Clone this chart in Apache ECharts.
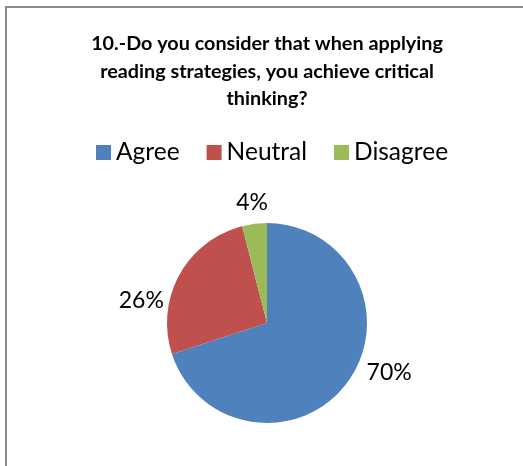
<!DOCTYPE html>
<html>
<head>
<meta charset="utf-8">
<script src="https://cdn.jsdelivr.net/npm/echarts@6/dist/echarts.min.js"></script>
<style>
html,body{margin:0;padding:0;background:#fff;}
#chart{width:523px;height:466px;}
</style>
</head>
<body>
<div id="chart"></div>
<script>
const categories = ['Agree', 'Neutral', 'Disagree'];
const values = [70, 26, 4];
const colors = ['#4F81BD', '#C0504D', '#9BBB59'];
const titleText = '10.-Do you consider that when applying\nreading strategies, you achieve critical\nthinking?';
// label nudges (style only), Excel-like placement
const labelNudge = [[4, -16], [0, 32], [20, -9]];

const chart = echarts.init(document.getElementById('chart'));
chart.setOption({
  backgroundColor: '#ffffff',
  animation: false,
  title: {
    text: titleText,
    left: 262,
    textAlign: 'center',
    top: 25,
    textStyle: {
      fontFamily: 'Lato',
      fontWeight: 'bold',
      fontSize: 19.8,
      lineHeight: 27.5,
      color: '#000'
    }
  },
  legend: {
    data: categories,
    top: 135,
    left: 91,
    icon: 'rect',
    itemWidth: 15,
    itemHeight: 15,
    itemGap: 27,
    itemTextGap: 6,
    textStyle: { fontFamily: 'Lato', fontSize: 24.5, color: '#000' }
  },
  graphic: [{
    type: 'polyline',
    shape: { points: [[6, 466], [6, 7], [523, 7]] },
    style: { stroke: '#8a8a8a', lineWidth: 2, fill: null }
  }],
  series: [{
    type: 'pie',
    center: [267, 323],
    radius: 100,
    startAngle: 90,
    clockwise: true,
    color: colors,
    data: categories.map((c, i) => ({ name: c, value: values[i] })),
    label: {
      show: true,
      position: 'outside',
      formatter: '{d}%',
      fontFamily: 'Lato',
      fontSize: 23,
      color: '#000'
    },
    labelLine: { show: false, length: 12, length2: 0 },
    labelLayout: function (p) {
      const n = labelNudge[p.dataIndex] || [0, 0];
      return { dx: n[0], dy: n[1] };
    },
    itemStyle: { borderWidth: 0 },
    emphasis: { disabled: true }
  }]
});
</script>
</body>
</html>
